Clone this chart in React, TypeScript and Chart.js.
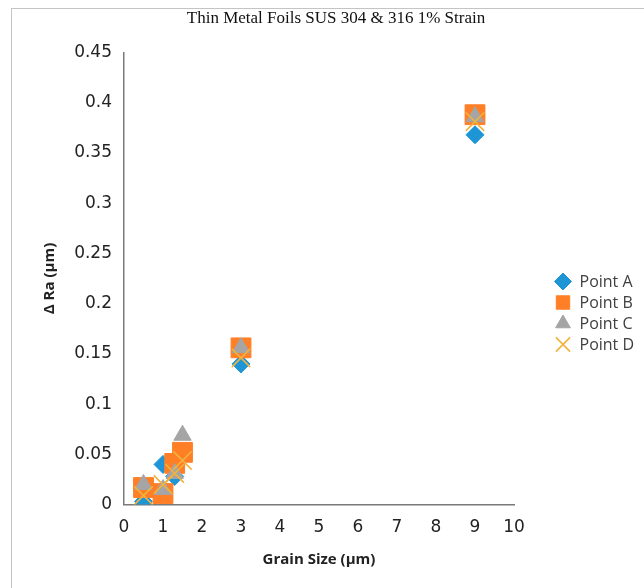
import React, { useEffect, useRef } from "react";
import { Chart, registerables } from "chart.js";
import { drawPoint } from "chart.js/helpers";

Chart.register(...registerables);

const grainSizes = [0.5, 1, 1.3, 1.5, 3, 9];
const pointA = [0.003, 0.04, 0.028, 0.05, 0.14, 0.368];
const pointB = [0.017, 0.011, 0.041, 0.052, 0.156, 0.388];
const pointC = [0.02, 0.015, 0.031, 0.069, 0.156, 0.386];
const pointD = [0.009, 0.02, 0.031, 0.044, 0.146, 0.381];
const seriesNames = ["Point A", "Point B", "Point C", "Point D"];
const xTickLabels = ["0", "1", "2", "3", "4", "5", "6", "7", "8", "9", "10"];
const yTickLabels = ["0", "0.05", "0.1", "0.15", "0.2", "0.25", "0.3", "0.35", "0.4", "0.45"];

const toXY = (vals: number[]) => vals.map((v, i) => ({ x: grainSizes[i], y: v }));

const legendSpecs = [
  { style: "rectRot", radius: 8.5 },
  { style: "rect", radius: 9.5 },
  { style: "triangle", radius: 8.5 },
  { style: "crossRot", radius: 10 },
];

const customLegend = {
  id: "customLegend",
  afterDraw(chart: any) {
    const ctx = chart.ctx;
    const area = chart.chartArea;
    const x0 = area.right + 49;
    const yMid = (area.top + area.bottom) / 2 + 3;
    ctx.save();
    chart.data.datasets.forEach((ds: any, i: number) => {
      const y = yMid + i * 21;
      const spec = legendSpecs[i];
      ctx.fillStyle = ds.backgroundColor;
      ctx.strokeStyle = ds.borderColor;
      ctx.lineWidth = ds.borderWidth || 1;
      drawPoint(ctx, { pointStyle: spec.style, rotation: 0, radius: spec.radius, borderWidth: ds.borderWidth || 1 }, x0, y);
      ctx.fillStyle = "#404040";
      ctx.font = "16px 'Open Sans'";
      ctx.textBaseline = "middle";
      ctx.textAlign = "left";
      ctx.fillText(seriesNames[i], x0 + 16.5, y + 1);
    });
    ctx.restore();
  },
};

export default function App() {
  const ref = useRef<HTMLCanvasElement | null>(null);
  useEffect(() => {
    if (!ref.current) return;
    const chart = new Chart(ref.current, {
      type: "scatter",
      data: {
        datasets: [
          {
            label: seriesNames[0],
            data: toXY(pointA),
            pointStyle: "rectRot",
            pointRadius: 9,
            backgroundColor: "#1E96D6",
            borderColor: "#1E96D6",
            borderWidth: 1,
            order: 4,
          },
          {
            label: seriesNames[1],
            data: toXY(pointB),
            pointStyle: "rect",
            pointRadius: 14,
            backgroundColor: "#FF7F27",
            borderColor: "#FF7F27",
            borderWidth: 1,
            order: 3,
          },
          {
            label: seriesNames[2],
            data: toXY(pointC),
            pointStyle: "triangle",
            pointRadius: 10,
            backgroundColor: "#A5A5A5",
            borderColor: "#A5A5A5",
            borderWidth: 1,
            order: 2,
          },
          {
            label: seriesNames[3],
            data: toXY(pointD),
            pointStyle: "crossRot",
            pointRadius: 13,
            backgroundColor: "#F2B33D",
            borderColor: "#F2B33D",
            borderWidth: 1.6,
            order: 1,
          },
        ],
      },
      options: {
        animation: false,
        responsive: false,
        events: [],
        layout: { padding: { left: 36, right: 8, top: 0, bottom: 8 } },
        plugins: {
          legend: { display: false },
          tooltip: { enabled: false },
          title: {
            display: true,
            text: "Thin Metal Foils SUS 304 & 316 1% Strain",
            color: "#111",
            font: { family: "'Liberation Serif'", size: 17, weight: "normal" },
            padding: { top: 8, bottom: 24 },
          },
        },
        scales: {
          x: {
            type: "linear",
            min: 0,
            max: 10,
            grid: { display: false, drawTicks: false },
            border: { display: true, color: "#7a7a7a", width: 1.5 },
            ticks: {
              stepSize: 1,
              padding: 13,
              color: "#222",
              font: { family: "'DejaVu Sans'", size: 17 },
              callback: (_v: any, i: number) => xTickLabels[i],
            },
            title: {
              display: true,
              text: "Grain Size (µm)",
              color: "#222",
              font: { family: "'Open Sans'", size: 15, weight: "bold" },
              padding: { top: 0, bottom: 11 },
            },
          },
          y: {
            type: "linear",
            min: 0,
            max: 0.45,
            grid: { display: false, drawTicks: false },
            border: { display: true, color: "#7a7a7a", width: 1.5 },
            ticks: {
              stepSize: 0.05,
              padding: 12,
              color: "#222",
              font: { family: "'DejaVu Sans'", size: 17 },
              callback: (_v: any, i: number) => yTickLabels[i],
            },
            title: {
              display: true,
              text: "Δ Ra (µm)",
              color: "#222",
              font: { family: "'Open Sans'", size: 15, weight: "bold" },
              padding: { top: 5, bottom: 0 },
            },
            afterFit: (s: any) => {
              s.width = 88;
            },
          },
          legendSpace: {
            type: "linear",
            position: "right",
            display: true,
            grid: { display: false, drawTicks: false },
            border: { display: false },
            ticks: { display: false },
            afterFit: (s: any) => {
              s.width = 122;
            },
          },
        },
      },
      plugins: [customLegend],
    } as any);
    return () => chart.destroy();
  }, []);

  return (
    <div style={{ position: "absolute", left: 0, top: 0, width: 644, height: 588, background: "#fff" }}>
      <canvas ref={ref} width={644} height={588} style={{ display: "block" }} />
      <div
        style={{
          position: "absolute",
          left: 11,
          top: 8,
          width: 632,
          height: 579,
          borderTop: "1px solid #c4c4c4",
          borderLeft: "1px solid #c4c4c4",
          pointerEvents: "none",
        }}
      />
    </div>
  );
}
